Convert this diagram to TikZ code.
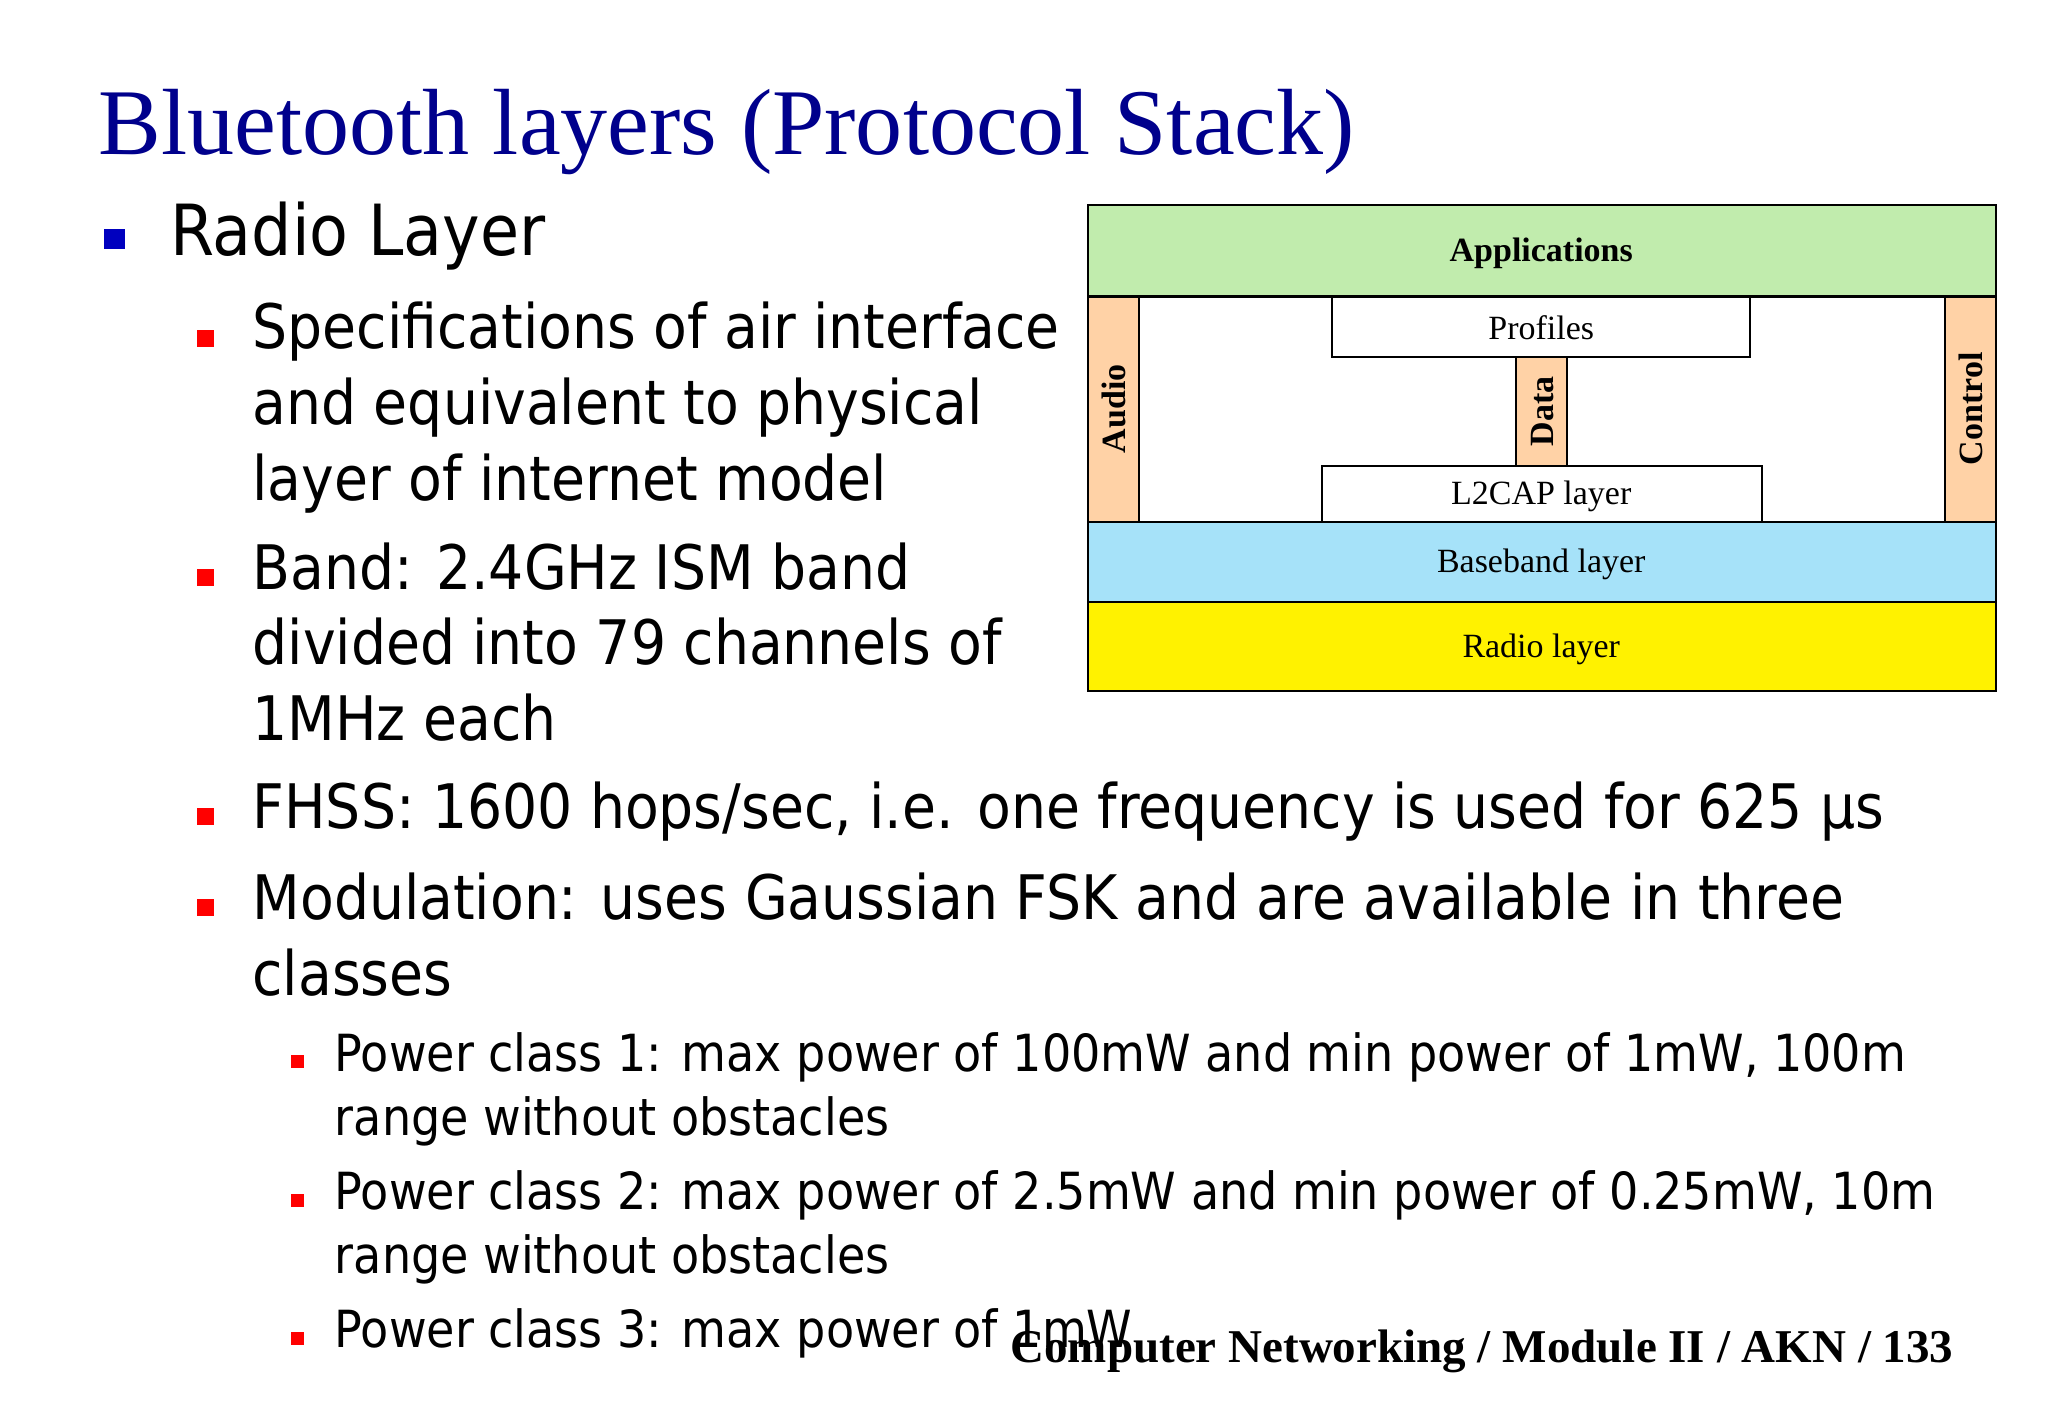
\documentclass[tikz,border=0pt]{standalone}
\usepackage{fontspec}
\setmainfont{Liberation Serif}
\newfontfamily\bodyfont{DejaVu Sans Condensed}
\begin{document}
\begin{tikzpicture}[x=0.5pt,y=-0.5pt,
  every node/.style={inner sep=0pt},
  lay/.style={draw=black,line width=0.8pt},
  lbl/.style={font=\fontsize{13}{15}\selectfont},
  lblb/.style={font=\bfseries\fontsize{13}{15}\selectfont},
  b1/.style={fill=blue!75!black,minimum size=8pt},
  b2/.style={fill=red,minimum size=6.5pt},
  b3/.style={fill=red,minimum size=5pt},
  t1/.style={anchor=base west,font=\bodyfont\fontsize{27}{29}\selectfont},
  t2/.style={anchor=base west,font=\bodyfont\fontsize{23.5}{29}\selectfont},
  t3/.style={anchor=base west,font=\bodyfont\fontsize{19.6}{24.5}\selectfont}]
\useasboundingbox (0,0) rectangle (1568,1085);
\node[anchor=base west,text=blue!55!black,font=\fontsize{36}{40}\selectfont] (title) at (75,118) {Bluetooth layers (Protocol Stack)};
\node[b1] (bu1) at (88,183) {};
\node[t1] (radio) at (130,196) {Radio Layer};
\node[b2] (bu2) at (157,259) {};
\node[t2] (spec1) at (193,267) {Specifications of air interface};
\node[t2] (spec2) at (193,325) {and equivalent to physical};
\node[t2] (spec3) at (193,383) {layer of internet model};
\node[b2] (bu3) at (157,442) {};
\node[t2] (band1) at (193,451) {Band: 2.4GHz ISM band};
\node[t2] (band2) at (193,509) {divided into 79 channels of};
\node[t2] (band3) at (193,567) {1MHz each};
\node[b2] (bu4) at (157,625) {};
\node[t2] (fhss) at (193,634) {FHSS: 1600 hops/sec, i.e. one frequency is used for 625 μs};
\node[b2] (bu5) at (157,695) {};
\node[t2] (mod1) at (193,704) {Modulation: uses Gaussian FSK and are available in three};
\node[t2] (mod2) at (193,762) {classes};
\node[b3] (bu6) at (228,813) {};
\node[t3] (p1a) at (256,820) {Power class 1: max power of 100mW and min power of 1mW, 100m};
\node[t3] (p1b) at (256,869) {range without obstacles};
\node[b3] (bu7) at (228,919) {};
\node[t3] (p2a) at (256,926) {Power class 2: max power of 2.5mW and min power of 0.25mW, 10m};
\node[t3] (p2b) at (256,975) {range without obstacles};
\node[b3] (bu8) at (228,1025) {};
\node[t3] (p3) at (256,1032) {Power class 3: max power of 1mW};
\node[anchor=base east,font=\bfseries\fontsize{18}{20}\selectfont] (foot) at (1496,1043) {Computer Networking / Module II / AKN / 133};
% diagram
\draw[lay,fill=white] (833,157) rectangle (1528,529);
\draw[lay,fill=green!20!white!85!olive] (833,157) rectangle (1528,227);
\node[lblb] (app) at (1180,194) {Applications};
\draw[lay,fill=orange!35] (833,227) rectangle (872,400);
\node[lblb,rotate=90] (audio) at (853,313) {Audio};
\draw[lay,fill=orange!35] (1489,227) rectangle (1528,400);
\node[lblb,rotate=90] (ctrl) at (1509,313) {Control};
\draw[lay,fill=white] (1020,227) rectangle (1340,273);
\node[lbl] (prof) at (1180,251) {Profiles};
\draw[lay,fill=orange!35] (1161,273) rectangle (1200,357);
\node[lblb,rotate=90] (data) at (1181,315) {Data};
\draw[lay,fill=white] (1012,357) rectangle (1349,400);
\node[lbl] (l2) at (1180,380) {L2CAP layer};
\draw[lay,fill=cyan!35!white] (833,400) rectangle (1528,461);
\node[lbl] (base) at (1180,432) {Baseband layer};
\draw[lay,fill=yellow] (833,461) rectangle (1528,529);
\node[lbl] (rad) at (1180,497) {Radio layer};
\end{tikzpicture}
\end{document}
